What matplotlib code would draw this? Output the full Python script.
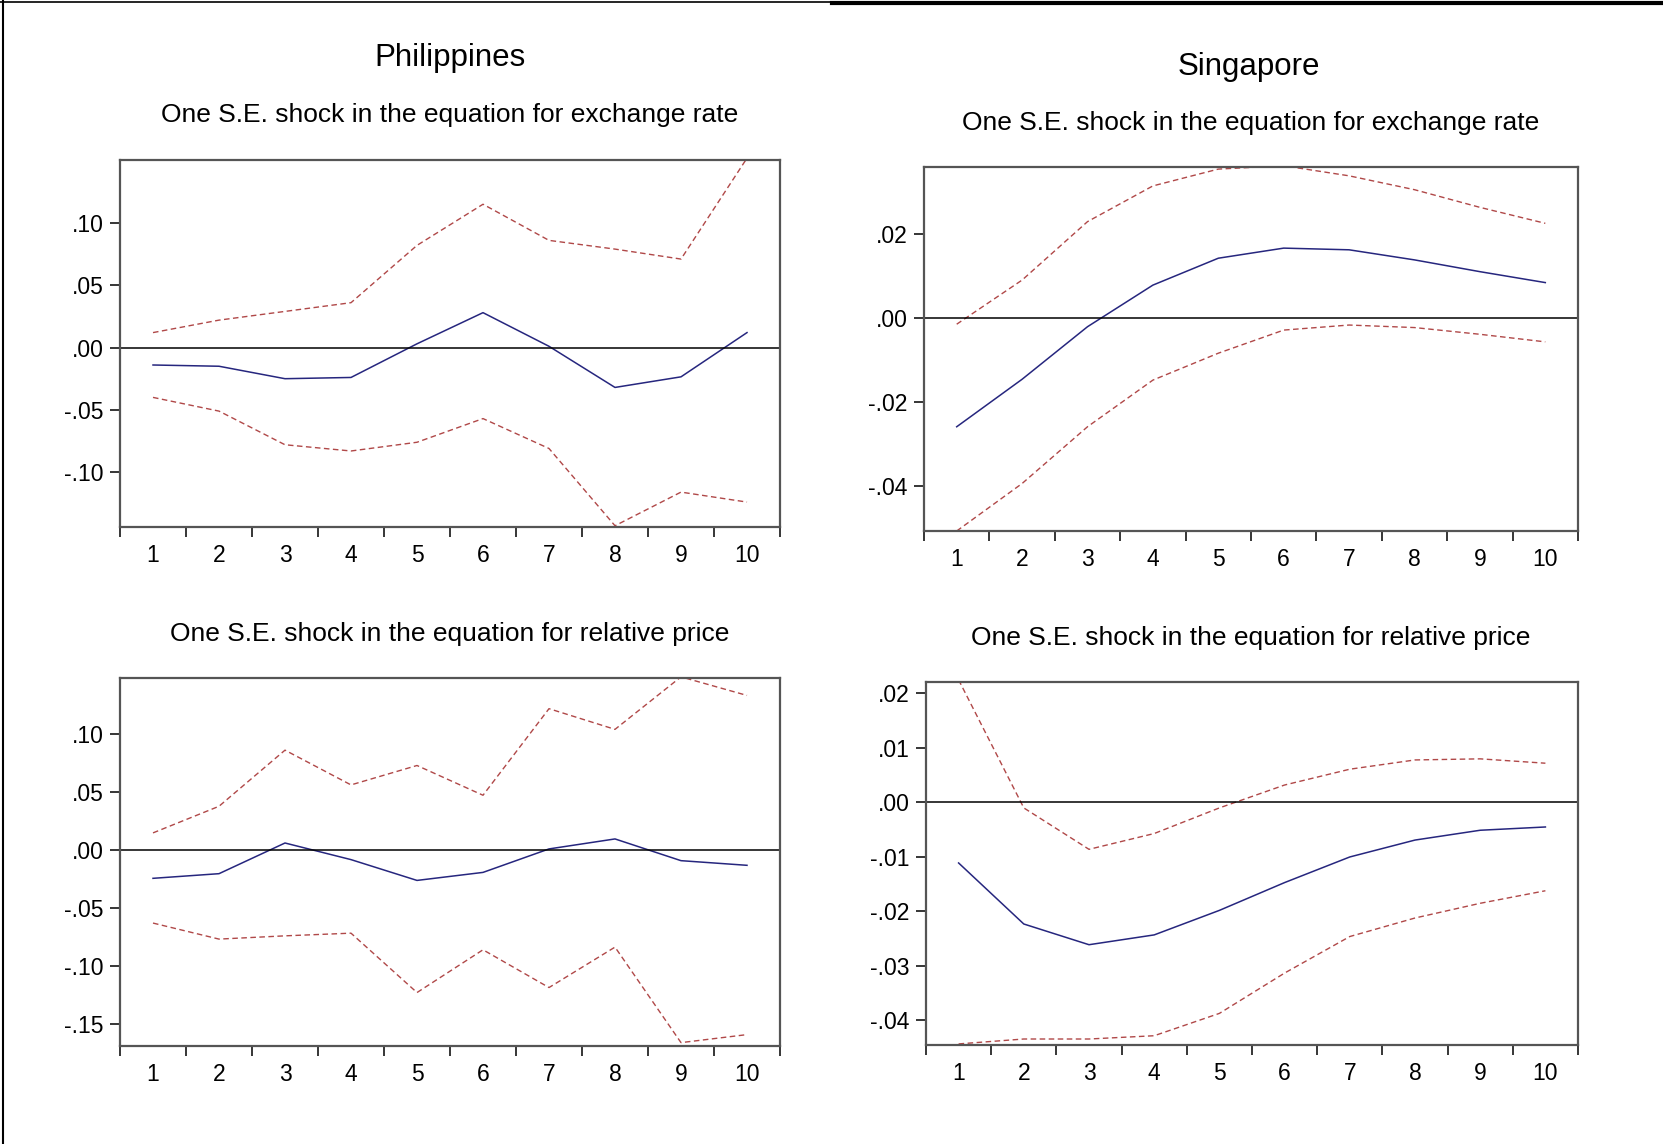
import numpy as np
import matplotlib
matplotlib.use("Agg")
import matplotlib.pyplot as plt
from matplotlib.lines import Line2D
from matplotlib.ticker import FuncFormatter, FixedLocator

plt.rcParams["font.family"] = ["Liberation Sans", "DejaVu Sans"]

periods = np.arange(1, 11)

# Philippines, shock to exchange rate
ph_ex_mid = [-0.014, -0.015, -0.025, -0.024, 0.003, 0.028, 0.001, -0.032, -0.0235, 0.012]
ph_ex_up = [0.012, 0.022, 0.029, 0.036, 0.082, 0.115, 0.086, 0.079, 0.071, 0.152]
ph_ex_lo = [-0.040, -0.051, -0.078, -0.083, -0.076, -0.057, -0.081, -0.143, -0.116, -0.124]

# Philippines, shock to relative price
ph_rp_mid = [-0.0244, -0.0204, 0.006, -0.0083, -0.0262, -0.0193, 0.0009, 0.0095, -0.0092, -0.0132]
ph_rp_up = [0.0147, 0.0376, 0.0859, 0.056, 0.0727, 0.0471, 0.1216, 0.1038, 0.149, 0.133]
ph_rp_lo = [-0.0629, -0.0767, -0.0739, -0.0716, -0.1227, -0.0859, -0.1184, -0.0836, -0.1658, -0.1589]

# Singapore, shock to exchange rate
sg_ex_mid = [-0.0258, -0.0145, -0.002, 0.0079, 0.0143, 0.0167, 0.0163, 0.0139, 0.0111, 0.0085]
sg_ex_up = [-0.0014, 0.0091, 0.023, 0.0315, 0.0355, 0.0363, 0.0339, 0.0306, 0.0264, 0.0226]
sg_ex_lo = [-0.0506, -0.0393, -0.0258, -0.0147, -0.0083, -0.0028, -0.0016, -0.0022, -0.0038, -0.0056]

# Singapore, shock to relative price
sg_rp_mid = [-0.0111, -0.0223, -0.0261, -0.0243, -0.0198, -0.0147, -0.0100, -0.0069, -0.0051, -0.0045]
sg_rp_up = [0.0225, -0.0010, -0.0086, -0.0057, -0.0010, 0.0032, 0.0061, 0.0078, 0.0080, 0.0072]
sg_rp_lo = [-0.0443, -0.0434, -0.0434, -0.0428, -0.0387, -0.0313, -0.0246, -0.0212, -0.0185, -0.0162]

W, H = 1663, 1144
fig = plt.figure(figsize=(W / 100, H / 100), dpi=100)
fig.patch.set_facecolor("white")


def fmt(v, pos):
    s = f"{v:.2f}"
    return s.replace("0.", ".", 1)


def make_panel(rect, mid, up, lo, ylim, yticks):
    ax = fig.add_axes(rect)
    ax.plot(periods, up, color="#b04848", lw=1.0, ls=(0, (4, 2.5)))
    ax.plot(periods, lo, color="#b04848", lw=1.0, ls=(0, (4, 2.5)))
    ax.plot(periods, mid, color="#26267e", lw=1.1)
    ax.axhline(0, color="black", lw=1.1)
    ax.set_xlim(0.5, 10.5)
    ax.set_ylim(*ylim)
    ax.set_yticks(yticks)
    ax.yaxis.set_major_formatter(FuncFormatter(fmt))
    ax.set_xticks(periods)
    ax.xaxis.set_minor_locator(FixedLocator(np.arange(0.5, 11, 1)))
    ax.tick_params(axis="x", which="major", length=0, pad=12, labelsize=16.5)
    ax.tick_params(axis="x", which="minor", length=7, width=1.1, color="black")
    ax.tick_params(axis="y", length=7, width=1.1, pad=5, labelsize=16.5, color="black")
    for sp in ax.spines.values():
        sp.set_color("#555555")
        sp.set_linewidth(1.6)
    return ax


def rect(x0, y0, x1, y1):
    return [x0 / W, 1 - y1 / H, (x1 - x0) / W, (y1 - y0) / H]


make_panel(rect(120, 160, 780, 527), ph_ex_mid, ph_ex_up, ph_ex_lo,
           (-0.144, 0.1505), [-0.10, -0.05, 0.0, 0.05, 0.10])
make_panel(rect(924, 167, 1578, 531), sg_ex_mid, sg_ex_up, sg_ex_lo,
           (-0.0506, 0.036), [-0.04, -0.02, 0.0, 0.02])
make_panel(rect(120, 678, 780, 1046), ph_rp_mid, ph_rp_up, ph_rp_lo,
           (-0.1687, 0.148), [-0.15, -0.10, -0.05, 0.0, 0.05, 0.10])
make_panel(rect(926, 682, 1578, 1045), sg_rp_mid, sg_rp_up, sg_rp_lo,
           (-0.0445, 0.0221), [-0.04, -0.03, -0.02, -0.01, 0.0, 0.01, 0.02])

# country titles and panel subtitles
fig.text(450 / W, 1 - 58 / H, "Philippines", ha="center", va="center", fontsize=22.5)
fig.text(1249 / W, 1 - 67 / H, "Singapore", ha="center", va="center", fontsize=22.5)
fig.text(450 / W, 1 - 115 / H, "One S.E. shock in the equation for exchange rate",
         ha="center", va="center", fontsize=19)
fig.text(1251 / W, 1 - 123 / H, "One S.E. shock in the equation for exchange rate",
         ha="center", va="center", fontsize=19)
fig.text(450 / W, 1 - 634 / H, "One S.E. shock in the equation for relative price",
         ha="center", va="center", fontsize=19)
fig.text(1251 / W, 1 - 638 / H, "One S.E. shock in the equation for relative price",
         ha="center", va="center", fontsize=19)

# page border lines
fig.add_artist(Line2D([3 / W, 3 / W], [0, 1], color="black", lw=1.5))
fig.add_artist(Line2D([0, 832 / W], [1 - 2 / H, 1 - 2 / H], color="black", lw=1.2))
fig.add_artist(Line2D([832 / W, 1], [1 - 3 / H, 1 - 3 / H], color="black", lw=3))

fig.savefig("out.png", dpi=100)
